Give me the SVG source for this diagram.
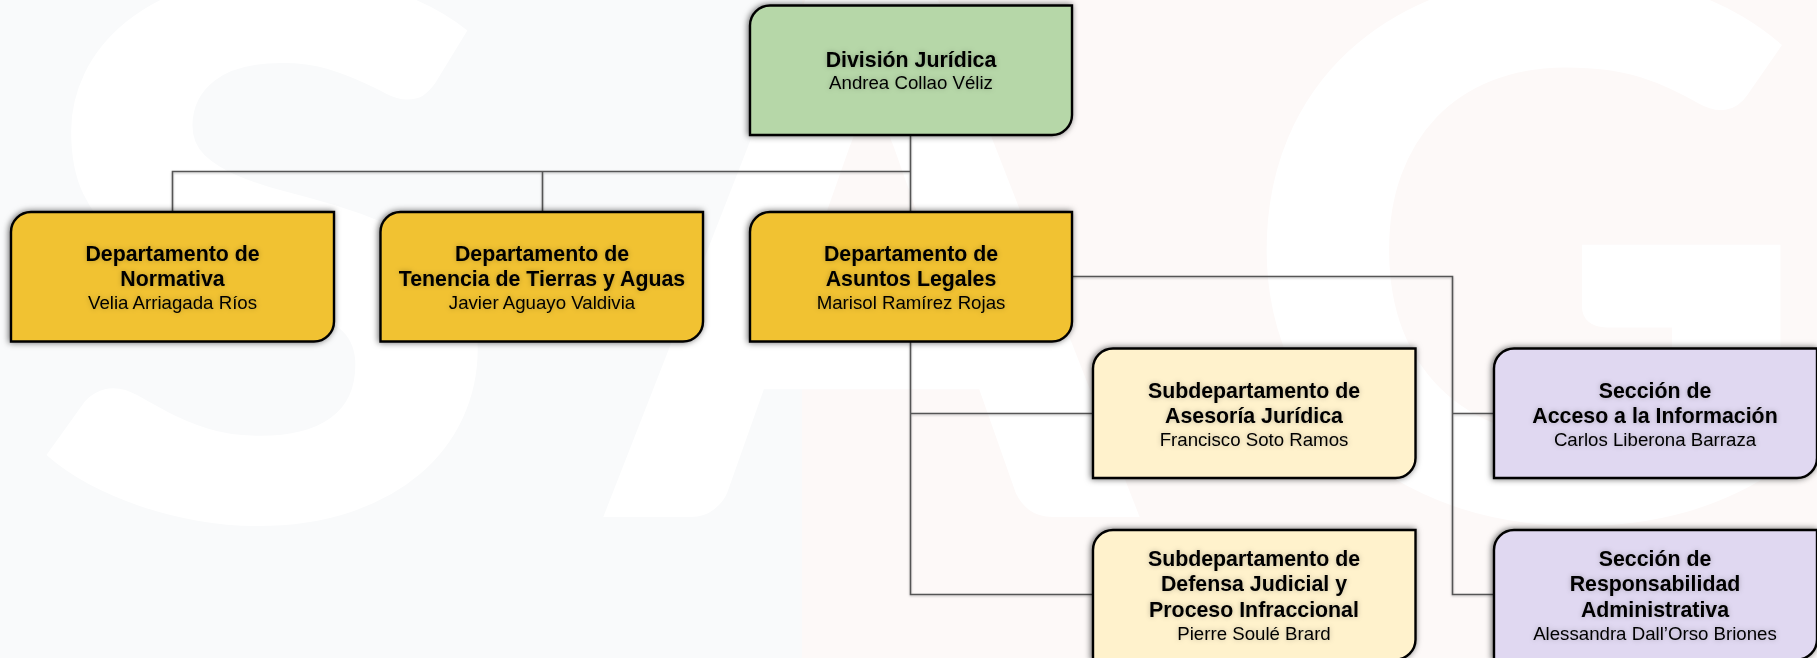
<svg xmlns="http://www.w3.org/2000/svg" width="1817" height="658" viewBox="0 0 1817 658">
<defs>
<style>
.bg{font-family:"Lato","Open Sans",sans-serif;font-weight:900;font-size:745px;fill:#fff}
.box{stroke:#000;stroke-width:2.4}
.green{fill:#b6d7a8}.gold{fill:#f1c232}.cream{fill:#fff2cc}.lilac{fill:#e0d8f1}
.t{font-family:"Liberation Sans",Arial,sans-serif;text-anchor:middle;fill:#000;filter:url(#ts)}
.b{font-weight:700;font-size:21.33px}
.n{font-size:18.67px}
.c{fill:none;stroke:#555;stroke-width:1.6}
</style>
<filter id="ns" x="-10%" y="-15%" width="120%" height="130%"><feDropShadow dx="-1" dy="0" stdDeviation="3" flood-color="#000" flood-opacity=".6"/></filter>
<filter id="ts" x="-10%" y="-30%" width="120%" height="160%"><feDropShadow dx="0" dy="0" stdDeviation="2.500" flood-color="#000" flood-opacity=".25"/></filter>
<filter id="cs" x="-5%" y="-5%" width="110%" height="110%"><feDropShadow dx="0" dy="1" stdDeviation="1" flood-color="#000" flood-opacity=".25"/></filter>
</defs>
<rect width="802" height="658" fill="#f9fafb"/>
<rect x="802" width="1015" height="658" fill="#fdf9f8"/>
<g id="watermark">
<text class="bg" transform="translate(30 520) scale(1.16 1)">S</text>
<text class="bg" transform="translate(610 517)">A</text>
<text class="bg" transform="translate(1240 520) scale(1.07 1)">G</text>
</g>
<g id="connectors" filter="url(#cs)">
<path class="c" d="M910.500 135V212M172.500 212V171.500H910.500M542.500 171.500V212"/>
<path class="c" d="M910.500 342V594.500H1092M910.500 413.500H1092"/>
<path class="c" d="M1072 276.500H1452.500V594.500H1494M1452.500 413.500H1494"/>
</g>
<g id="n-division">
<path class="box green" filter="url(#ns)" d="M770 5.500H1072V115a20 20 0 0 1-20 20H750V25.500a20 20 0 0 1 20-20Z"/>
<text class="t b" x="911" y="67">División Jurídica</text>
<text class="t n" x="911" y="89">Andrea Collao Véliz</text>
</g>
<g id="n-normativa">
<path class="box gold" filter="url(#ns)" d="M31 212H334V321.500a20 20 0 0 1-20 20H11V232a20 20 0 0 1 20-20Z"/>
<text class="t b" x="172.500" y="261">Departamento de</text>
<text class="t b" x="172.500" y="286">Normativa</text>
<text class="t n" x="172.500" y="309">Velia Arriagada Ríos</text>
</g>
<g id="n-tenencia">
<path class="box gold" filter="url(#ns)" d="M400.500 212H703V321.500a20 20 0 0 1-20 20H380.500V232a20 20 0 0 1 20-20Z"/>
<text class="t b" x="542" y="261">Departamento de</text>
<text class="t b" x="542" y="286">Tenencia de Tierras y Aguas</text>
<text class="t n" x="542" y="309">Javier Aguayo Valdivia</text>
</g>
<g id="n-asuntos">
<path class="box gold" filter="url(#ns)" d="M770 212H1072V321.500a20 20 0 0 1-20 20H750V232a20 20 0 0 1 20-20Z"/>
<text class="t b" x="911" y="261">Departamento de</text>
<text class="t b" x="911" y="286">Asuntos Legales</text>
<text class="t n" x="911" y="309">Marisol Ramírez Rojas</text>
</g>
<g id="n-asesoria">
<path class="box cream" filter="url(#ns)" d="M1113 348.500H1415.500V458a20 20 0 0 1-20 20H1093V368.500a20 20 0 0 1 20-20Z"/>
<text class="t b" x="1254" y="398">Subdepartamento de</text>
<text class="t b" x="1254" y="423">Asesoría Jurídica</text>
<text class="t n" x="1254" y="446">Francisco Soto Ramos</text>
</g>
<g id="n-defensa">
<path class="box cream" filter="url(#ns)" d="M1113 530H1415.500V639.500a20 20 0 0 1-20 20H1093V550a20 20 0 0 1 20-20Z"/>
<text class="t b" x="1254" y="566">Subdepartamento de</text>
<text class="t b" x="1254" y="591">Defensa Judicial y</text>
<text class="t b" x="1254" y="617">Proceso Infraccional</text>
<text class="t n" x="1254" y="640">Pierre Soulé Brard</text>
</g>
<g id="n-acceso">
<path class="box lilac" filter="url(#ns)" d="M1514 348.500H1817V458a20 20 0 0 1-20 20H1494V368.500a20 20 0 0 1 20-20Z"/>
<text class="t b" x="1655" y="398">Sección de</text>
<text class="t b" x="1655" y="423">Acceso a la Información</text>
<text class="t n" x="1655" y="446">Carlos Liberona Barraza</text>
</g>
<g id="n-responsabilidad">
<path class="box lilac" filter="url(#ns)" d="M1514 530H1817V639.500a20 20 0 0 1-20 20H1494V550a20 20 0 0 1 20-20Z"/>
<text class="t b" x="1655" y="566">Sección de</text>
<text class="t b" x="1655" y="591">Responsabilidad</text>
<text class="t b" x="1655" y="617">Administrativa</text>
<text class="t n" x="1655" y="640">Alessandra Dall’Orso Briones</text>
</g>
</svg>
